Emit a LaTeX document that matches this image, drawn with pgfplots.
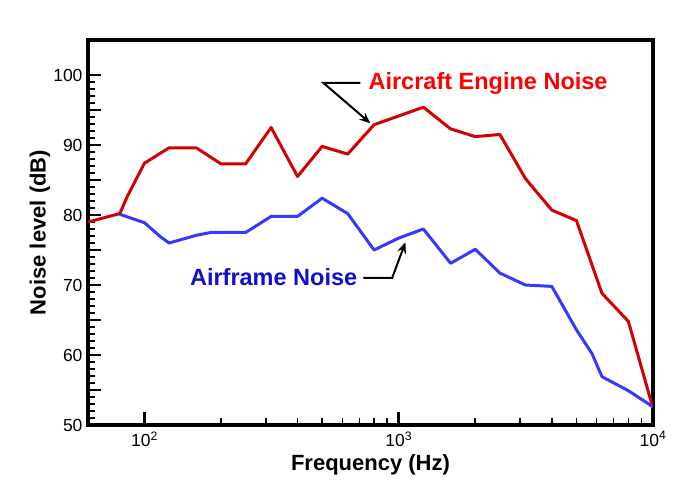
\documentclass[border=0pt]{standalone}
\usepackage{fontspec}
\setmainfont{Liberation Sans}
\usepackage{pgfplots}
\pgfplotsset{compat=1.18}
\usetikzlibrary{arrows.meta}
\definecolor{engred}{RGB}{210,0,0}
\definecolor{airblue}{RGB}{55,55,255}
\definecolor{txtred}{RGB}{255,0,0}
\definecolor{txtblue}{RGB}{15,15,205}
\begin{document}
\begin{tikzpicture}
\begin{axis}[
  xmode=log, scale only axis, width=565pt, height=385pt,
  xmin=60, xmax=10000, ymin=50, ymax=105,
  axis line style={line width=3.8pt, line cap=rect},
  tick align=inside, xtick pos=bottom, ytick pos=left,
  major tick length=13pt, minor tick length=7pt,
  every major tick/.style={line width=2.6pt, black},
  every minor tick/.style={line width=1.6pt, black},
  xtick={100,1000,10000},
  xticklabels={10\textsuperscript{2},10\textsuperscript{3},10\textsuperscript{4}},
  ytick={50,60,...,100},
  extra y ticks={55,65,...,95},
  extra y tick labels={},
  minor y tick num=9,
  tick label style={font=\fontsize{17.5}{17.5}\selectfont},
  /pgf/number format/assume math mode=true,
  yticklabel style={xshift=-2pt},
  xticklabel style={yshift=-3pt},
  xlabel={\bfseries Frequency (Hz)},
  ylabel={\bfseries Noise level (dB)},
  label style={font=\fontsize{22}{22}\selectfont},
  xlabel style={at={(axis description cs:0.5,-0.104)}, anchor=center},
  ylabel style={at={(axis description cs:-0.085,0.5)}, anchor=center, rotate=0},
  clip=true,
]
\addplot[engred, line width=3pt, line join=round] coordinates {
  (60,79.0) (80,80.2) (85.5,82.6) (100,87.4) (125,89.6) (160,89.6)
  (200,87.3) (250,87.3) (315,92.5) (400,85.5) (500,89.8) (630,88.7)
  (800,92.9) (1250,95.4) (1600,92.3) (2000,91.2) (2500,91.5)
  (3150,85.2) (4000,80.7) (5000,79.2) (6300,68.8) (8000,64.8) (10000,52.4)
};
\addplot[airblue, line width=3pt, line join=round] coordinates {
  (80,80.1) (100,78.9) (115.6,76.9) (125,76.0) (160,77.1) (182,77.5)
  (250,77.5) (315,79.8) (400,79.8) (500,82.4) (630,80.2) (800,75.0)
  (1000,76.7) (1250,78.0) (1600,73.1) (2000,75.1) (2500,71.7)
  (3150,70.0) (4000,69.8) (5000,63.6) (5754,60.2) (6300,56.9)
  (8000,54.9) (10000,52.6)
};
\node[anchor=west, text=txtred, font=\fontsize{23.5}{23.5}\selectfont\bfseries, inner sep=0pt]
  at (axis cs:760,98.86) {Aircraft Engine Noise};
\draw[black, line width=2pt, -{Stealth[length=11pt,width=9pt]}]
  (axis cs:706,98.86) -- (axis cs:506,98.86) -- (axis cs:774,93.1);
\node[anchor=east, text=txtblue, font=\fontsize{23.5}{23.5}\selectfont\bfseries, inner sep=0pt]
  at (axis cs:688,71.14) {Airframe Noise};
\draw[black, line width=2pt, -{Stealth[length=11pt,width=9pt]}]
  (axis cs:726,71.0) -- (axis cs:942,71.0) -- (axis cs:1063,76.1);
\end{axis}
\pgfresetboundingbox
\path[use as bounding box] (-88pt,-70pt) rectangle (600pt,425pt);
\end{tikzpicture}
\end{document}
